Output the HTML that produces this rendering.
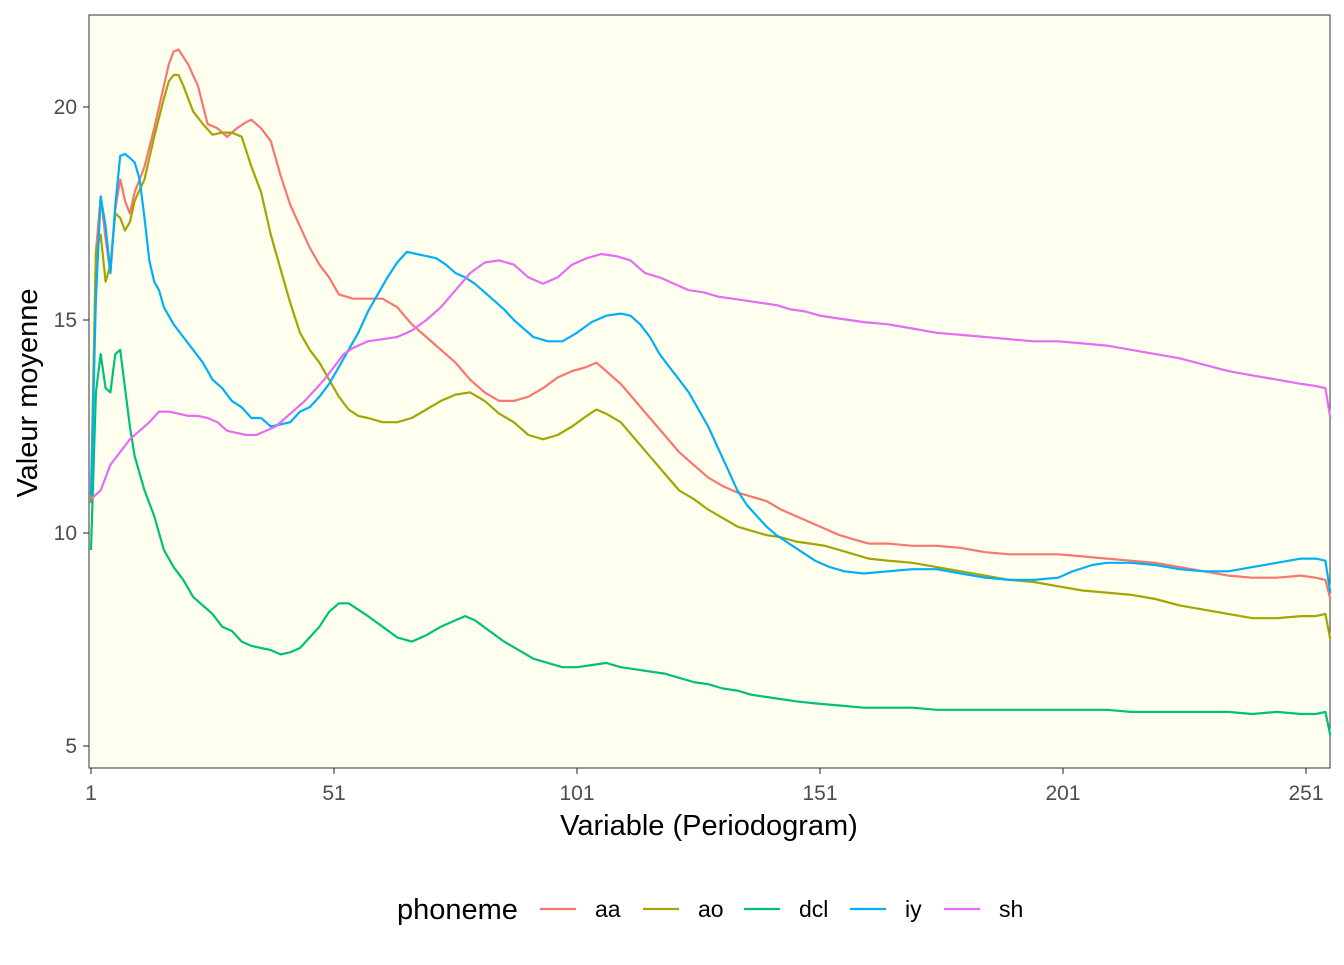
<!DOCTYPE html>
<html><head><meta charset="utf-8"><style>
body{margin:0;background:#fff;}
svg text{font-family:"Liberation Sans",Arial,sans-serif;}
</style></head><body>
<svg id="chart" width="1344" height="960" xmlns="http://www.w3.org/2000/svg">
<rect x="0" y="0" width="1344" height="960" fill="#fff"/>
<rect x="89" y="15" width="1241" height="753" fill="#FFFFF0" stroke="#333" stroke-width="1"/>
<g id="series"></g>
<g id="axes"></g>
<text x="709" y="835" font-size="29" text-anchor="middle" fill="#000">Variable (Periodogram)</text>
<text transform="translate(37,393) rotate(-90)" font-size="29" text-anchor="middle" fill="#000">Valeur moyenne</text>
<g>
<text x="397" y="919" font-size="29" fill="#000">phoneme</text>
<g id="legend"></g>
</g>
</svg>
<script>
const seriesNames=["aa","ao","dcl","iy","sh"];
const colors=["#F8766D","#A3A500","#00BF7D","#00B0F6","#E76BF3"];
const aaX=[1,2,3,4,5,6,7,8,9,10,12,14,16,17,18,19,21,23,25,27,29,31,33,34,36,38,40,42,44,46,48,50,52,55,58,61,64,67,70,73,76,79,82,85,88,91,94,97,100,103,105,107,110,113,116,119,122,125,128,131,134,137,140,143,146,149,152,155,158,161,165,170,175,180,185,190,195,200,205,210,215,220,225,230,235,240,245,250,253,255,256];
const aaY=[10.9,16.6,17.9,16.9,16.1,17.6,18.3,17.8,17.5,18.0,18.6,19.5,20.5,21.0,21.3,21.35,21.0,20.5,19.6,19.5,19.3,19.5,19.65,19.7,19.5,19.2,18.4,17.7,17.2,16.7,16.3,16.0,15.6,15.5,15.5,15.5,15.3,14.9,14.6,14.3,14.0,13.6,13.3,13.1,13.1,13.2,13.4,13.65,13.8,13.9,14.0,13.8,13.5,13.1,12.7,12.3,11.9,11.6,11.3,11.1,10.95,10.85,10.75,10.55,10.4,10.25,10.1,9.95,9.85,9.75,9.75,9.7,9.7,9.65,9.55,9.5,9.5,9.5,9.45,9.4,9.35,9.3,9.2,9.1,9.0,8.95,8.95,9.0,8.95,8.9,8.45];
const aoX=[1,2,3,4,5,6,7,8,9,10,12,14,16,17,18,19,20,22,24,26,28,30,32,34,36,38,40,42,44,46,48,50,52,54,56,58,61,64,67,70,73,76,79,82,85,88,91,94,97,100,103,105,107,110,113,116,119,122,125,128,131,134,137,140,143,146,149,152,155,158,161,165,170,175,180,185,190,195,200,205,210,215,220,225,230,235,240,245,250,253,255,256];
const aoY=[10.7,16.6,17.0,15.9,16.3,17.5,17.4,17.1,17.3,17.8,18.3,19.3,20.2,20.6,20.75,20.75,20.5,19.9,19.6,19.35,19.4,19.4,19.3,18.6,18.0,17.0,16.2,15.4,14.7,14.3,14.0,13.6,13.2,12.9,12.75,12.7,12.6,12.6,12.7,12.9,13.1,13.25,13.3,13.1,12.8,12.6,12.3,12.2,12.3,12.5,12.75,12.9,12.8,12.6,12.2,11.8,11.4,11.0,10.8,10.55,10.35,10.15,10.05,9.95,9.9,9.8,9.75,9.7,9.6,9.5,9.4,9.35,9.3,9.2,9.1,9.0,8.9,8.85,8.75,8.65,8.6,8.55,8.45,8.3,8.2,8.1,8.0,8.0,8.05,8.05,8.1,7.5];
const dclX=[1,2,3,4,5,6,7,8,9,10,12,14,16,18,20,22,24,26,28,30,32,34,36,38,40,42,44,46,48,50,52,54,56,58,61,64,67,70,73,76,78,80,83,86,89,92,95,98,101,104,107,110,113,116,119,122,125,128,131,134,137,140,143,146,150,155,160,165,170,175,180,185,190,195,200,205,210,215,220,225,230,235,240,245,250,253,255,256];
const dclY=[9.6,13.3,14.2,13.4,13.3,14.2,14.3,13.4,12.5,11.8,11.0,10.4,9.6,9.2,8.9,8.5,8.3,8.1,7.8,7.7,7.45,7.35,7.3,7.25,7.15,7.2,7.3,7.55,7.8,8.15,8.35,8.35,8.2,8.05,7.8,7.55,7.45,7.6,7.8,7.95,8.05,7.95,7.7,7.45,7.25,7.05,6.95,6.85,6.85,6.9,6.95,6.85,6.8,6.75,6.7,6.6,6.5,6.45,6.35,6.3,6.2,6.15,6.1,6.05,6.0,5.95,5.9,5.9,5.9,5.85,5.85,5.85,5.85,5.85,5.85,5.85,5.85,5.8,5.8,5.8,5.8,5.8,5.75,5.8,5.75,5.75,5.8,5.25];
const iyX=[1,2,3,4,5,6,7,8,9,10,11,12,13,14,15,16,18,20,22,24,26,28,30,32,34,36,38,40,42,44,46,48,50,52,54,56,58,60,62,64,66,68,70,72,74,76,78,80,82,84,86,88,90,92,95,98,101,104,107,110,112,114,116,118,120,122,124,126,128,130,132,134,136,138,140,142,144,146,148,150,153,156,160,165,170,175,180,185,190,195,200,203,207,210,215,220,225,230,235,240,245,250,253,255,256];
const iyY=[10.9,15.5,17.9,17.2,16.1,17.7,18.85,18.9,18.8,18.7,18.3,17.4,16.4,15.9,15.7,15.3,14.9,14.6,14.3,14.0,13.6,13.4,13.1,12.95,12.7,12.7,12.5,12.55,12.6,12.85,12.95,13.2,13.5,13.9,14.3,14.7,15.2,15.6,16.0,16.35,16.6,16.55,16.5,16.45,16.3,16.1,16.0,15.85,15.65,15.45,15.25,15.0,14.8,14.6,14.5,14.5,14.7,14.95,15.1,15.15,15.1,14.9,14.6,14.2,13.9,13.6,13.3,12.9,12.5,12.0,11.5,11.0,10.65,10.4,10.15,9.95,9.8,9.65,9.5,9.35,9.2,9.1,9.05,9.1,9.15,9.15,9.05,8.95,8.9,8.9,8.95,9.1,9.25,9.3,9.3,9.25,9.15,9.1,9.1,9.2,9.3,9.4,9.4,9.35,8.6];
const shX=[1,3,5,7,9,11,13,15,17,19,21,23,25,27,29,31,33,35,37,39,41,43,45,47,49,51,53,55,58,61,64,67,70,73,76,79,82,85,88,91,94,97,100,103,106,109,112,115,118,121,124,127,130,133,136,139,142,145,148,151,154,157,160,165,170,175,180,185,190,195,200,205,210,215,220,225,230,235,240,245,250,253,255,256];
const shY=[10.8,11.0,11.6,11.9,12.2,12.4,12.6,12.85,12.85,12.8,12.75,12.75,12.7,12.6,12.4,12.35,12.3,12.3,12.4,12.5,12.7,12.9,13.1,13.35,13.6,13.9,14.2,14.35,14.5,14.55,14.6,14.75,15.0,15.3,15.7,16.1,16.35,16.4,16.3,16.0,15.85,16.0,16.3,16.45,16.55,16.5,16.4,16.1,16.0,15.85,15.7,15.65,15.55,15.5,15.45,15.4,15.35,15.25,15.2,15.1,15.05,15.0,14.95,14.9,14.8,14.7,14.65,14.6,14.55,14.5,14.5,14.45,14.4,14.3,14.2,14.1,13.95,13.8,13.7,13.6,13.5,13.45,13.4,12.7];
const xTicks=[1,51,101,151,201,251];
const yTicks=[5,10,15,20];

const NS="http://www.w3.org/2000/svg";
function sx(i){return 91+(i-1)*(1306-91)/250;}
function sy(v){return 746-(v-5)*(746-107)/15;}
const allX=[aaX,aoX,dclX,iyX,shX], allY=[aaY,aoY,dclY,iyY,shY];
const sg=document.getElementById('series');
for(let s=0;s<5;s++){
  const p=document.createElementNS(NS,'path');
  let d='';
  for(let k=0;k<allX[s].length;k++){d+=(k?'L':'M')+sx(allX[s][k]).toFixed(1)+','+sy(allY[s][k]).toFixed(1);}
  p.setAttribute('d',d);p.setAttribute('fill','none');p.setAttribute('stroke',colors[s]);p.setAttribute('stroke-width','2.2');p.setAttribute('stroke-linejoin','round');
  
  
  sg.appendChild(p);
}
const ag=document.getElementById('axes');
xTicks.forEach(t=>{
  const l=document.createElementNS(NS,'line');
  l.setAttribute('x1',sx(t));l.setAttribute('x2',sx(t));l.setAttribute('y1',768);l.setAttribute('y2',774);l.setAttribute('stroke','#333');l.setAttribute('stroke-width','1.1');
  
  
  ag.appendChild(l);
  const tx=document.createElementNS(NS,'text');
  tx.setAttribute('x',sx(t));tx.setAttribute('y',800);tx.setAttribute('font-size','21');tx.setAttribute('text-anchor','middle');tx.setAttribute('fill','#4d4d4d');tx.textContent=t;
  
  
  ag.appendChild(tx);
});
yTicks.forEach(t=>{
  const l=document.createElementNS(NS,'line');
  l.setAttribute('x1',83);l.setAttribute('x2',89);l.setAttribute('y1',sy(t));l.setAttribute('y2',sy(t));l.setAttribute('stroke','#333');l.setAttribute('stroke-width','1.1');
  
  
  ag.appendChild(l);
  const tx=document.createElementNS(NS,'text');
  tx.setAttribute('x',77);tx.setAttribute('y',sy(t)+7);tx.setAttribute('font-size','21');tx.setAttribute('text-anchor','end');tx.setAttribute('fill','#4d4d4d');tx.textContent=t;
  
  
  ag.appendChild(tx);
});
const lg=document.getElementById('legend');
const lx=[540,643,744,850,944];
for(let s=0;s<5;s++){
  const l=document.createElementNS(NS,'line');
  l.setAttribute('x1',lx[s]);l.setAttribute('x2',lx[s]+36);l.setAttribute('y1',909);l.setAttribute('y2',909);l.setAttribute('stroke',colors[s]);l.setAttribute('stroke-width','2.2');
  
  
  lg.appendChild(l);
  const tx=document.createElementNS(NS,'text');
  tx.setAttribute('x',lx[s]+55);tx.setAttribute('y',917);tx.setAttribute('font-size','23');tx.setAttribute('fill','#000');tx.textContent=seriesNames[s];
  
  
  lg.appendChild(tx);
}
</script>
</body></html>
